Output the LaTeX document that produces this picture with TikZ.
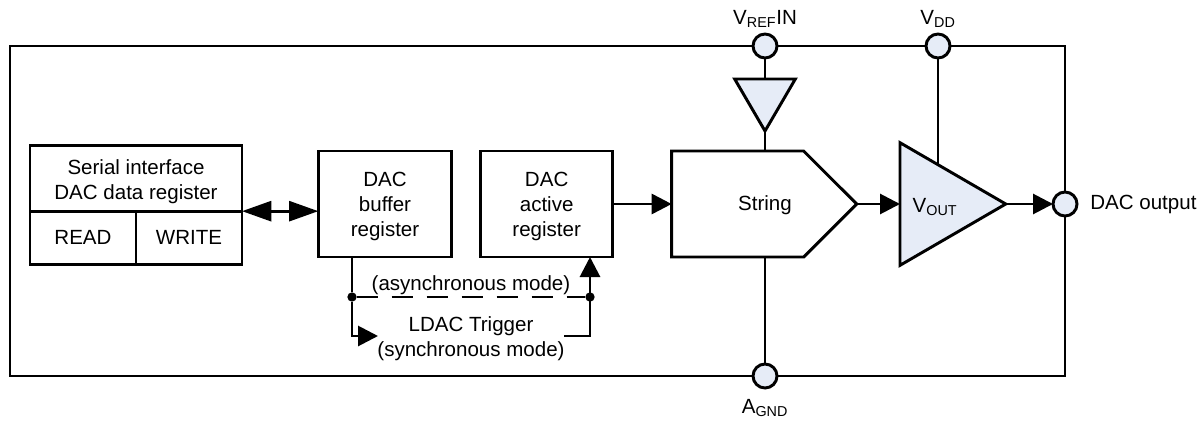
\documentclass[tikz,border=0pt]{standalone}
\usepackage{fontspec}
\setmainfont{Liberation Sans}
\usepackage{xcolor}
\usetikzlibrary{arrows.meta,positioning,calc,shapes.geometric,shapes.symbols}
\definecolor{PinBlue}{HTML}{E6ECF7}
\newcommand{\sub}[1]{\textsubscript{#1}}
\newcommand{\drop}[1]{\rule{0pt}{#1}}

\begin{document}
\begin{tikzpicture}[
  x=0.75pt,y=-0.75pt,
  line width=2.2pt,
  every node/.style={font=\fontsize{15.4}{18.75}\selectfont,outer sep=0pt,inner sep=0pt},
  box/.style={draw,align=center},
  pin/.style={draw,circle,fill=PinBlue,minimum size=18pt},
  dot/.style={circle,fill=black,minimum size=7pt},
  amp/.style={draw,fill=PinBlue,isosceles triangle,isosceles triangle stretches},
  arrow/.style={-{Triangle[length=15pt,width=15pt]}},
  dblarrow/.style={{Triangle[length=22pt,width=15pt]}-{Triangle[length=22pt,width=15pt]}}
]
  \useasboundingbox (0,0) rectangle (1202,421);
  \node[box,minimum width=791.25pt,minimum height=247.5pt] (chip) at (537.5,211) {};

  % serial register
  \node[box,minimum width=159pt,minimum height=49pt] (serial) at (136,178.5) {\drop{16.5pt}Serial interface\\DAC data register};
  \node[box,minimum width=79.5pt,minimum height=40pt,anchor=north west] (read) at (serial.south west) {READ};
  \node[box,minimum width=79.5pt,minimum height=40pt,anchor=north east] (write) at (serial.south east) {WRITE};

  % registers and string
  \node[box,minimum width=100pt,minimum height=79.5pt] (buffer) at (385,204) {\drop{14pt}DAC\\buffer\\register};
  \node[box,minimum width=99pt,minimum height=79.5pt,right=21.75pt of buffer] (active) {\drop{14pt}DAC\\active\\register};
  \node[draw,signal,signal to=east,signal pointer angle=90,minimum width=138.75pt,minimum height=79.5pt,right=44.25pt of active] (string) {};
  \node (stringlabel) at (765,205) {String};

  % amplifiers
  \node[amp,minimum width=92pt,minimum height=79.3pt,anchor=lower side] (vout) at (900,204) {};
  \node (voutlabel) at (935,207) {V\sub{OUT}};
  \node[amp,shape border rotate=270,minimum width=45.5pt,minimum height=39pt,anchor=apex] (vrefbuf) at (765,131) {};

  % pins
  \node[pin] (vrefpin) at (765,46) {};
  \node[pin] (vddpin) at (938,46) {};
  \node[pin] (agndpin) at (765,376) {};
  \node[pin] (dacpin) at (1065,204) {};
  \node[above=4.5pt of vrefpin] (vreflabel) {V\sub{REF}IN};
  \node[above=4.5pt of vddpin] (vddlabel) {V\sub{DD}};
  \node[below=8.5pt of agndpin] (agndlabel) {A\sub{GND}};
  \node[right=10pt of dacpin,yshift=-0.7pt] (daclabel) {DAC output};

  % mode labels
  \node (asynclabel) at (471,285) {(asynchronous mode)};
  \node[align=center] (synclabel) at (471,339) {LDAC Trigger\\(synchronous mode)};
  \node[dot] (jleft) at (352,297) {};
  \node[dot] (jright) at (590,297) {};
  \coordinate (trigin) at (378,336);
  \coordinate (trigout) at (564,336);
  \coordinate (vddfoot) at (938,165);

  \draw[dblarrow] (serial.south east) -- (serial.south east -| buffer.west);
  \draw[arrow] (active) -- (string);
  \draw[arrow] (string.east) -- (vout.lower side);
  \draw[arrow] (vout.apex) -- (dacpin);
  \draw (vrefpin) -- (vrefbuf.lower side);
  \draw (vrefbuf.apex) -- (vrefbuf.apex |- string.north);
  \draw (vddpin) -- (vddfoot);
  \draw (agndpin) -- (agndpin |- string.south);
  \draw (jleft |- buffer.south) -- (jleft);
  \draw[arrow] (jleft) |- (trigin);
  \draw[dash pattern=on 15.75pt off 10.5pt] (jleft) -- (jright);
  \draw[arrow] (trigout) -| (jright |- active.south);
\end{tikzpicture}
\end{document}
